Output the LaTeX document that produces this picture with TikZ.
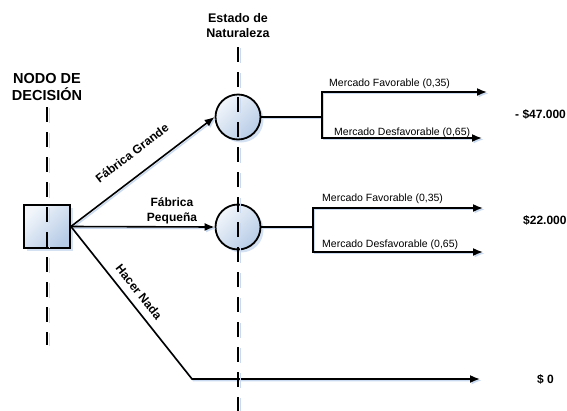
\documentclass[tikz,border=0pt]{standalone}
\usepackage{fontspec}
\setmainfont{Liberation Sans}
\usetikzlibrary{arrows.meta,shadows}
\definecolor{nodelight}{HTML}{F2F6FB}
\definecolor{nodeblue}{HTML}{B6CBE6}
\definecolor{shadowblue}{HTML}{C9DAF0}
\begin{document}
\begin{tikzpicture}[x=1pt,y=-1pt,
  conn/.style={draw=black, line width=1.6pt,
    preaction={draw=shadowblue, line width=1.5pt, transform canvas={xshift=1.5pt,yshift=-1.5pt}}},
  arr/.style={conn, -{Latex[length=10pt,width=8pt]}},
  guide/.style={draw=black, line width=1.8pt, dash pattern=on 15pt off 10pt,
    preaction={draw=shadowblue, line width=1.5pt, dash pattern=on 15pt off 10pt, transform canvas={xshift=2.5pt,yshift=-1pt}}},
  fillnode/.style={draw=black, line width=1.8pt, inner sep=0pt,
    top color=nodelight, bottom color=nodeblue, shading angle=45,
    drop shadow={shadow xshift=3pt, shadow yshift=-3pt, fill=shadowblue, opacity=0.8}},
  decbox/.style={fillnode, rectangle, minimum width=46pt, minimum height=43pt},
  chance/.style={fillnode, circle, minimum size=45pt},
  title/.style={font=\bfseries\fontsize{14.5}{17}\selectfont, align=center, inner sep=0pt},
  title2/.style={font=\bfseries\fontsize{12.5}{15}\selectfont, align=center, inner sep=0pt},
  blabel/.style={font=\bfseries\fontsize{12}{14.5}\selectfont, align=center, inner sep=0pt},
  small/.style={font=\fontsize{10.5}{12}\selectfont, inner sep=0pt, anchor=base west},
  value/.style={font=\bfseries\fontsize{12}{14}\selectfont, inner sep=0pt, anchor=base west}]
\useasboundingbox (0,0) rectangle (567,410);

% nodes
\node[decbox] (d) at (47,226.5) {};
\node[chance] (c1) at (238,117) {};
\node[chance] (c2) at (238,227) {};

% junction / end coordinates
\coordinate (hn) at (192,379);
\coordinate (e0) at (480,379);
\coordinate (j1) at (322,117);
\coordinate (t1) at (487,92);
\coordinate (u1) at (482,138);
\coordinate (j2) at (313,227);
\coordinate (t2) at (483,208);
\coordinate (u2) at (483,252);

% decision branches
\draw[arr] (d.east) -- (c1.west);
\draw[arr] (d.east) -- (c2.west);
\draw[arr] (d.east) -- (hn) -- (e0);

% chance branches
\draw[conn] (c1.east) -- (j1);
\draw[arr] (j1) |- (t1);
\draw[arr] (j1) |- (u1);
\draw[conn] (c2.east) -- (j2);
\draw[arr] (j2) |- (t2);
\draw[arr] (j2) |- (u2);

% dashed guide lines
\coordinate (g1a) at (47,107);
\coordinate (g1b) at (47,345);
\coordinate (g2a) at (238,47);
\coordinate (g2b) at (238,412);
\draw[guide] (g1a) -- (g1b);
\draw[guide] (g2a) -- (g2b);

% titles (base anchor = baseline of the last line)
\node[title, anchor=base] (tnodo) at (47,100) {NODO DE\\DECISIÓN};
\node[title2, anchor=base] (testado) at (238,37) {Estado de\\Naturaleza};

% branch labels
\node[blabel, rotate=37.4] (lfg) at (132,153) {Fábrica Grande};
\node[blabel, anchor=base] (lfp) at (172,221) {Fábrica\\Pequeña};
\node[blabel, rotate=-51.3] (lhn) at (139,292) {Hacer Nada};

\node[small] (m1) at (329,86.5) {Mercado Favorable (0,35)};
\node[small] (m2) at (334,135) {Mercado Desfavorable (0,65)};
\node[small] (m3) at (322,201) {Mercado Favorable (0,35)};
\node[small] (m4) at (322,247) {Mercado Desfavorable (0,65)};

% values
\node[value] (v1) at (515,118) {- \$47.000};
\node[value] (v2) at (523,224.5) {\$22.000};
\node[value] (v3) at (537,383) {\$ 0};
\end{tikzpicture}
\end{document}
